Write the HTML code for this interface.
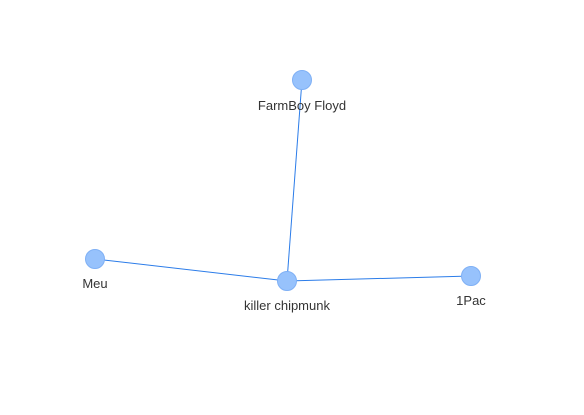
<!DOCTYPE html>
<html><head><meta charset="utf-8"><style>
html,body{margin:0;padding:0;background:#fff;width:584px;height:415px;overflow:hidden}
text{font-family:"Liberation Sans",Arial,sans-serif;font-size:13px;fill:#343434}
</style></head><body>
<svg width="584" height="415" viewBox="0 0 584 415" xmlns="http://www.w3.org/2000/svg">
<g stroke="#2b7ce9" stroke-width="1">
<line x1="302" y1="80" x2="287" y2="281"/>
<line x1="95" y1="259" x2="287" y2="281"/>
<line x1="287" y1="281" x2="471" y2="276"/>
</g>
<g fill="#97c2fc" stroke="#7fb0f5" stroke-width="1">
<circle cx="302" cy="80" r="9.5"/>
<circle cx="95" cy="259" r="9.5"/>
<circle cx="287" cy="281" r="9.5"/>
<circle cx="471" cy="276" r="9.5"/>
</g>
<g text-anchor="middle">
<text x="302" y="110">FarmBoy Floyd</text>
<text x="95" y="288">Meu</text>
<text x="287" y="310">killer chipmunk</text>
<text x="471" y="305">1Pac</text>
</g>
</svg>
</body></html>
